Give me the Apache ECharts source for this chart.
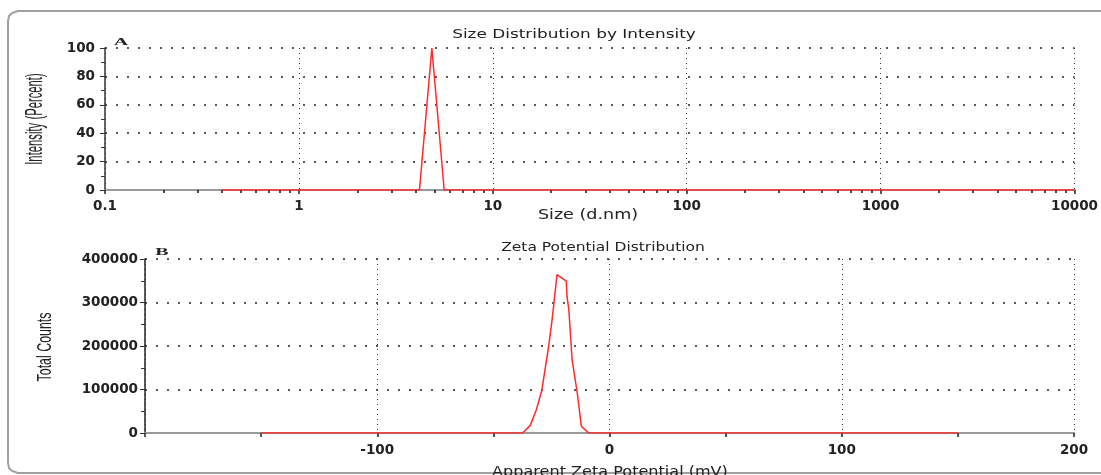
<!DOCTYPE html>
<html lang="en">
<head>
<meta charset="utf-8">
<title>Size and zeta potential distribution</title>
<script src="https://cdn.jsdelivr.net/npm/echarts@6/dist/echarts.min.js"></script>
<style>
  html, body { margin: 0; padding: 0; background: #fff; overflow: hidden; }
  #chart { width: 1101px; height: 475px; }
</style>
</head>
<body>
<div id="chart"></div>
<script>
// A - size distribution by intensity
const sizeNm = [0.4, 4.187, 4.849, 5.615, 10000];
const intensity = [0, 0, 100, 0, 0];
// small ticks inside each decade of the log axis
const sizeMinorTicks = [0.2, 0.3, 0.4, 0.5, 0.6, 0.7, 0.8, 0.9,
    2, 3, 4, 5, 6, 7, 8, 9,
    20, 30, 40, 50, 60, 70, 80, 90,
    200, 300, 400, 500, 600, 700, 800, 900,
    2000, 3000, 4000, 5000, 6000, 7000, 8000, 9000];

// B - zeta potential distribution
const zetaMv = [-150, -37.4, -34.1, -31.5, -30.6, -29.1, -26.2, -24.8, -22.6,
    -18.6, -18.3, -17.5, -16.1, -13.9, -12.1, -8.9, 150];
const totalCounts = [0, 0, 17500, 53600, 70000, 99500, 199000, 256500, 364000,
    349000, 314000, 283500, 168500, 92600, 15200, 0, 0];

const plain = v => String(v);
const tickFont = { fontFamily: 'DejaVu Sans', fontSize: 13.5, fontWeight: 'bold', color: '#222', formatter: plain };
const hDots = { color: '#222', width: 1.5, type: [2, 9] };
const vDots = { color: '#333', width: 1, type: [1, 4] };
const redLine = { color: '#ff2a2a', width: 1.5 };

// free text; sx stretches it along the writing direction
function label(text, x, y, font, sx, rot) {
    return {
        type: 'text', x: x, y: y, scaleX: sx, rotation: rot || 0, silent: true,
        style: { text: text, font: font, fill: '#222', textAlign: 'center', textVerticalAlign: 'middle' }
    };
}

let chart = echarts.init(document.getElementById('chart'));
const option = {
    animation: false,
    grid: [
        { left: 105, right: 25, top: 48, height: 142 },
        { left: 145, right: 27, top: 259, height: 174 }
    ],
    xAxis: [
        {
            type: 'log', gridIndex: 0, min: 0.1, max: 10000, position: 'bottom',
            axisLine: { lineStyle: { color: '#999', width: 2 } },
            axisTick: { length: 4, lineStyle: { color: '#222', width: 1.5 } },
            axisLabel: Object.assign({ margin: 9 }, tickFont),
            splitLine: { show: true, lineStyle: vDots }
        },
        {
            // only carries the 2..9 ticks
            type: 'log', gridIndex: 0, min: 0.1, max: 10000, position: 'bottom',
            axisLine: { show: false },
            axisLabel: { show: false },
            splitLine: { show: false },
            axisTick: { customValues: sizeMinorTicks, length: 3, lineStyle: { color: '#111', width: 1.5 } }
        },
        {
            type: 'value', gridIndex: 1, min: -200, max: 200, interval: 100,
            axisLine: { onZero: false, lineStyle: { color: '#999', width: 2 } },
            axisTick: { length: 4, lineStyle: { color: '#222', width: 1.5 } },
            minorTick: { show: true, splitNumber: 2, length: 4, lineStyle: { color: '#222', width: 1.5 } },
            axisLabel: Object.assign({ margin: 10, showMinLabel: false }, tickFont),
            splitLine: { show: true, lineStyle: vDots }
        }
    ],
    yAxis: [
        {
            type: 'value', gridIndex: 0, min: 0, max: 100, interval: 20,
            axisLine: { show: true, onZero: false, lineStyle: { color: '#333', width: 1.5 } },
            axisTick: { show: true, length: 5, lineStyle: { color: '#333' } },
            minorTick: { show: true, splitNumber: 2, length: 4, lineStyle: { color: '#333' } },
            axisLabel: Object.assign({ margin: 10 }, tickFont),
            splitLine: { show: true, showMinLine: false, lineStyle: hDots }
        },
        {
            type: 'value', gridIndex: 1, min: 0, max: 400000, interval: 100000,
            axisLine: { show: true, onZero: false, lineStyle: { color: '#222', width: 1.5 } },
            axisTick: { show: true, length: 5, lineStyle: { color: '#333' } },
            minorTick: { show: true, splitNumber: 2, length: 4, lineStyle: { color: '#333' } },
            axisLabel: Object.assign({ margin: 7 }, tickFont),
            splitLine: { show: true, showMinLine: false, lineStyle: hDots }
        }
    ],
    series: [
        {
            type: 'line', xAxisIndex: 0, yAxisIndex: 0,
            symbol: 'none', lineStyle: redLine, z: 5,
            data: sizeNm.map((x, i) => [x, intensity[i]])
        },
        {
            type: 'line', xAxisIndex: 2, yAxisIndex: 1,
            symbol: 'none', lineStyle: redLine, z: 5,
            data: zetaMv.map((x, i) => [x, totalCounts[i]])
        }
    ],
    graphic: [
        {
            // panel frame: only its left side and left corners are on the page
            type: 'polyline', silent: true, z: -1,
            shape: { points: [[1101, 11], [18, 11], [12, 13], [9, 16], [8, 21], [8, 463], [9, 468], [12, 471], [18, 473], [1101, 473]] },
            style: { fill: 'none', stroke: '#a0a0a0', lineWidth: 2 }
        },
        label('Size Distribution by Intensity', 574, 35, '13px "DejaVu Sans"', 1.3),
        label('Zeta Potential Distribution', 603, 248, '13px "DejaVu Sans"', 1.19),
        label('Size (d.nm)', 588, 215, '13.5px "DejaVu Sans"', 1.3),
        label('Apparent Zeta Potential (mV)', 610, 472, '13.5px "DejaVu Sans"', 1.19),
        label('A', 121, 42.5, 'bold 10px "Liberation Serif"', 2),
        label('B', 162, 252, 'bold 10px "Liberation Serif"', 2),
        label('Intensity (Percent)', 35, 119, '24px "Liberation Sans"', 0.47, Math.PI / 2),
        label('Total Counts', 45.5, 347, '20px "Liberation Sans"', 0.62, Math.PI / 2)
    ]
};
chart.setOption(option);
</script>
</body>
</html>
